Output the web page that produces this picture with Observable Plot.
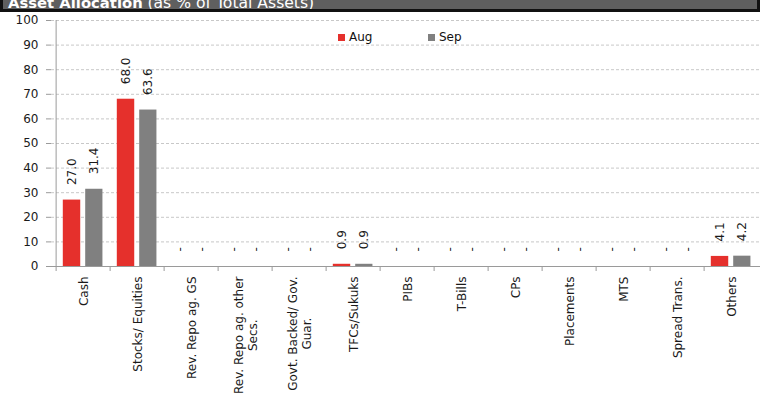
<!DOCTYPE html>
<html>
<head>
<meta charset="utf-8">
<script src="https://cdn.jsdelivr.net/npm/d3@7"></script>
<script src="https://cdn.jsdelivr.net/npm/@observablehq/plot@0.6"></script>
<style>
  html, body { margin: 0; padding: 0; background: #fff; overflow: hidden; width: 760px; height: 394px; }
  #wrap { position: relative; width: 760px; height: 394px; overflow: hidden; font-family: "DejaVu Sans", sans-serif; }
  #header { position: absolute; left: 0; top: 0; width: 760px; height: 12px; box-sizing: border-box;
            background: #5f5f5f; border: 3px solid #111; border-top: none; overflow: hidden; z-index: 2; }
  #header .t { position: absolute; left: 5px; top: -5px; white-space: nowrap; color: #fff; font-size: 15px; line-height: 15px; }
  #header b { font-weight: bold; font-size: 14.8px; }
  #header .n { font-size: 15.6px; }
  #legend { position: absolute; top: 30px; left: 0; font-size: 12px; color: #111; z-index: 2; }
  .li { position: absolute; white-space: nowrap; line-height: 14px; }
  .sw { display: inline-block; width: 7px; height: 7px; margin-right: 4px; vertical-align: 0px; }
  #chart svg { max-width: none !important; }
</style>
</head>
<body>
<div id="wrap">
  <div id="header"><div class="t"><b>Asset Allocation</b> <span class="n">(as % of Total Assets)</span></div></div>
  <div id="legend"></div>
  <div id="chart"></div>
</div>
<script>
const categories = ["Cash", "Stocks/ Equities", "Rev. Repo ag. GS", "Rev. Repo ag. other\nSecs.", "Govt. Backed/ Gov.\nGuar.", "TFCs/Sukuks", "PIBs", "T-Bills", "CPs", "Placements", "MTS", "Spread Trans.", "Others"];
const aug = [27.0, 68.0, 0, 0, 0, 0.9, 0, 0, 0, 0, 0, 0, 4.1];
const sep = [31.4, 63.6, 0, 0, 0, 0.9, 0, 0, 0, 0, 0, 0, 4.2];
const seriesNames = ["Aug", "Sep"];
const seriesColors = ["#e5302c", "#808080"];
const yTicks = [0, 10, 20, 30, 40, 50, 60, 70, 80, 90, 100];

const data = categories.map((c, i) => ({cat: c, aug: aug[i], sep: sep[i]}));
const fmt = v => v === 0 ? "-" : v.toFixed(1);

const W = 763, H = 394, mL = 51, mR = 0, mT = 20, mB = 128;
const bw = (W - mL - mR) / categories.length;
const axisColor = "#9a9a9a";
const textColor = "#1a1a1a";

const chart = Plot.plot({
  width: W,
  height: H,
  marginLeft: mL,
  marginRight: mR,
  marginTop: mT,
  marginBottom: mB,
  style: {fontFamily: "DejaVu Sans, sans-serif", fontSize: "12px", color: textColor, background: "transparent", maxWidth: "none"},
  x: {domain: categories, padding: 0},
  y: {domain: [0, 100]},
  marks: [
    Plot.gridY(yTicks, {stroke: "#c8c8c8", strokeOpacity: 1, strokeDasharray: "3,2"}),
    Plot.barY(data, {x: "cat", y: "aug", fill: seriesColors[0], insetLeft: 6.8, insetRight: bw - 6.8 - 18.2}),
    Plot.barY(data, {x: "cat", y: "sep", fill: seriesColors[1], insetLeft: 29.2, insetRight: bw - 29.2 - 18}),
    Plot.text(data, {x: "cat", y: "aug", text: d => fmt(d.aug), rotate: -90, textAnchor: "start", dy: -15, dx: 6.8 + 9.1 - bw/2, fill: textColor, fontSize: 12}),
    Plot.text(data, {x: "cat", y: "sep", text: d => fmt(d.sep), rotate: -90, textAnchor: "start", dy: -15, dx: 29.2 + 9 - bw/2, fill: textColor, fontSize: 12}),
    Plot.ruleY([0], {stroke: axisColor}),
    Plot.ruleX([categories[0]], {x: d => d, y1: 0, y2: 100, dx: -bw/2, stroke: axisColor}),
    Plot.axisY({ticks: yTicks, tickSize: 5, tickPadding: 8, stroke: axisColor, fill: textColor, fontSize: 12, label: null}),
    Plot.axisX({tickSize: 5, text: null, dx: -bw/2, stroke: axisColor, label: null}),
    Plot.axisX({tickSize: 0, tickPadding: 10, tickRotate: -90, lineAnchor: "middle", lineHeight: 1.15, fill: textColor, fontSize: 12, label: null, textOverflow: null, lineWidth: 100})
  ]
});
document.getElementById("chart").appendChild(chart);

// center multi-line rotated tick labels (Excel-style centered lines)
d3.select(chart).selectAll('g[aria-label="x-axis tick label"] text').each(function() {
  const tspans = d3.select(this).selectAll("tspan");
  if (tspans.size() > 1) {
    let maxLen = 0;
    tspans.each(function() { maxLen = Math.max(maxLen, this.getComputedTextLength()); });
    d3.select(this).attr("text-anchor", "middle");
    tspans.attr("x", -maxLen / 2);
  }
});

// legend
const legend = document.getElementById("legend");
const legendX = [338, 428];
seriesNames.forEach((n, i) => {
  const d = document.createElement("div");
  d.className = "li";
  d.style.left = legendX[i] + "px";
  d.innerHTML = `<span class="sw" style="background:${seriesColors[i]}"></span>${n}`;
  legend.appendChild(d);
});
</script>
</body>
</html>
